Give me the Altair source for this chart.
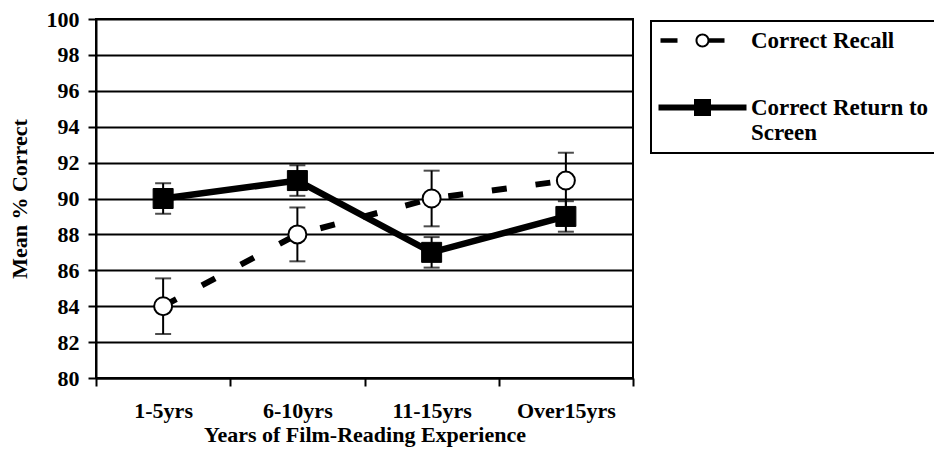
import altair as alt
import pandas as pd

categories = ["1-5yrs", "6-10yrs", "11-15yrs", "Over15yrs"]
recall = [84, 88, 90, 91]
recall_err = [1.55, 1.5, 1.55, 1.55]
ret = [90, 91, 87, 89]
ret_err = [0.85, 0.85, 0.85, 0.85]
series_names = ["Correct Recall", "Correct Return to Screen"]
y_ticks = [80, 82, 84, 86, 88, 90, 92, 94, 96, 98, 100]

rows = []
for c, v, e in zip(categories, recall, recall_err):
    rows.append({"cat": c, "value": v, "lo": v - e, "hi": v + e, "series": series_names[0]})
for c, v, e in zip(categories, ret, ret_err):
    rows.append({"cat": c, "value": v, "lo": v - e, "hi": v + e, "series": series_names[1]})
df = pd.DataFrame(rows)

FONT = "'Liberation Serif', 'Times New Roman', serif"
FS = 22

x_enc = alt.X(
    "cat:N",
    sort=categories,
    scale=alt.Scale(paddingInner=0, paddingOuter=0),
    axis=alt.Axis(
        title="Years of Film-Reading Experience",
        labelAngle=0,
        tickBand="extent",
        grid=False,
        domainColor="black", domainWidth=2,
        tickColor="black", tickWidth=2, tickSize=8,
        labelPadding=14, labelFont=FONT, labelFontSize=FS, labelFontWeight="bold",
        labelColor="black",
        titleFont=FONT, titleFontSize=FS, titleFontWeight="bold", titleColor="black",
        titlePadding=3,
    ),
)
y_scale = alt.Scale(domain=[80, 100], nice=False, zero=False)
y_axis = alt.Axis(
    title="Mean % Correct",
    values=y_ticks,
    grid=True, gridColor="black", gridWidth=2, gridOpacity=1,
    domainColor="black", domainWidth=2,
    tickColor="black", tickWidth=2, tickSize=8,
    labelPadding=9, labelFont=FONT, labelFontSize=FS, labelFontWeight="bold",
    labelColor="black",
    titleFont=FONT, titleFontSize=FS, titleFontWeight="bold", titleColor="black",
    titlePadding=15,
)

base = alt.Chart(df)
rec = base.transform_filter(alt.datum.series == series_names[0])
rtn = base.transform_filter(alt.datum.series == series_names[1])

rec_line = rec.mark_line(stroke="black", strokeWidth=6, strokeDash=[15, 29]).encode(
    x=x_enc, y=alt.Y("value:Q", scale=y_scale, axis=y_axis)
)
rtn_line = rtn.mark_line(stroke="black", strokeWidth=6.5).encode(
    x=x_enc, y=alt.Y("value:Q", scale=y_scale, axis=y_axis)
)
err_rule = base.mark_rule(stroke="black", strokeWidth=2).encode(
    x=x_enc, y=alt.Y("lo:Q", scale=y_scale, axis=y_axis), y2="hi:Q"
)
cap_lo = base.mark_tick(color="black", size=16, thickness=2).encode(
    x=x_enc, y=alt.Y("lo:Q", scale=y_scale, axis=y_axis)
)
cap_hi = base.mark_tick(color="black", size=16, thickness=2).encode(
    x=x_enc, y=alt.Y("hi:Q", scale=y_scale, axis=y_axis)
)
rec_pts = rec.mark_point(shape="circle", filled=True, fill="white", stroke="black",
                         strokeWidth=2, size=324, opacity=1).encode(
    x=x_enc, y=alt.Y("value:Q", scale=y_scale, axis=y_axis)
)
rtn_pts = rtn.mark_point(shape="square", filled=True, fill="black", stroke="black",
                         strokeWidth=1, size=400, opacity=1).encode(
    x=x_enc, y=alt.Y("value:Q", scale=y_scale, axis=y_axis)
)

# legend symbol paths, filled black (unit = 10 px with symbol size 400)
recall_path = ("M-4.2,-0.22H-2.5V0.22H-4.2Z "
               "M0.6,-0.22H2.2V0.22H0.6Z "
               "M0.7,0A0.7,0.7 0 1,1 -0.7,0A0.7,0.7 0 1,1 0.7,0Z "
               "M0.5,0A0.5,0.5 0 1,0 -0.5,0A0.5,0.5 0 1,0 0.5,0Z")
return_path = ("M-4.4,-0.3H4.4V0.3H-4.4Z "
               "M-0.85,-0.85H0.85V0.85H-0.85Z")

label_expr = "datum.label == 'Correct Return to Screen' ? ['Correct Return to', 'Screen'] : datum.label"

legend_layer = base.transform_filter("false").mark_point(
    filled=True, color="black", size=400, opacity=1
).encode(
    shape=alt.Shape(
        "series:N",
        scale=alt.Scale(domain=series_names, range=[recall_path, return_path]),
        legend=alt.Legend(title=None, labelExpr=label_expr),
    ),
)

chart = alt.layer(
    rec_line, rtn_line, err_rule, cap_lo, cap_hi, rec_pts, rtn_pts, legend_layer
).properties(
    width=537, height=359,
    autosize=alt.AutoSizeParams(type="none"),
    padding={"left": 96, "top": 19, "right": 301, "bottom": 78},
).configure_view(
    stroke="black", strokeWidth=2
).configure_legend(
    orient="none", legendX=555, legendY=2,
    strokeColor="black", strokeWidth=2, padding=8,
    labelFont=FONT, labelFontSize=23, labelFontWeight="bold", labelColor="black",
    labelLimit=400, labelOffset=37, symbolOffset=32, symbolSize=400,
    symbolStrokeWidth=0, rowPadding=43,
)

chart.save("out.html", embed_options={"renderer": "svg", "actions": False})
